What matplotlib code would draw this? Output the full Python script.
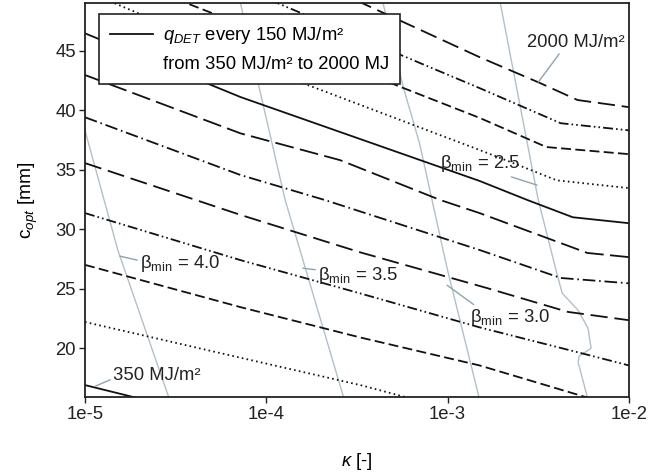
import numpy as np
import matplotlib.pyplot as plt
from matplotlib.lines import Line2D

plt.rcParams['font.family'] = ['Liberation Sans', 'DejaVu Sans']
plt.rcParams['mathtext.fontset'] = 'custom'
plt.rcParams['mathtext.rm'] = 'Liberation Sans'
plt.rcParams['mathtext.it'] = 'Liberation Sans:italic'
plt.rcParams['mathtext.bf'] = 'Liberation Sans:bold'

# q_DET iso-lines: kappa [-] against c_opt [mm]
q_levels = [350, 500, 650, 800, 950, 1100, 1250, 1400, 1550, 1700, 1850, 2000]

kap_350 = [1.0e-5, 1.9e-5]
c_350 = [16.9, 15.85]
kap_500 = [1.0e-5, 7.2e-5, 3.3e-4, 6.0e-4]
c_500 = [22.2, 19.2, 16.9, 15.85]
kap_650 = [1.0e-5, 7.2e-5, 3.3e-4, 1.5e-3, 5.9e-3]
c_650 = [27.0, 23.45, 20.9, 18.55, 15.85]
kap_800 = [1.0e-5, 7.2e-5, 3.3e-4, 1.5e-3, 5.4e-3, 1.0e-2]
c_800 = [31.35, 27.4, 24.6, 21.75, 19.6, 18.55]
kap_950 = [1.0e-5, 7.2e-5, 3.3e-4, 1.65e-3, 4.6e-3, 1.0e-2]
c_950 = [35.55, 31.2, 28.05, 25.05, 23.05, 22.35]
kap_1100 = [1.0e-5, 7.2e-5, 2.1e-4, 1.5e-3, 4.2e-3, 1.0e-2]
c_1100 = [39.4, 34.55, 32.45, 28.25, 25.9, 25.45]
kap_1250 = [1.0e-5, 7.2e-5, 2.55e-4, 9.1e-4, 1.5e-3, 5.9e-3, 1.0e-2]
c_1250 = [42.95, 38.05, 35.8, 32.45, 31.35, 28.0, 27.65]
kap_1400 = [1.0e-5, 7.2e-5, 1.5e-3, 2.75e-3, 4.9e-3, 1.0e-2]
c_1400 = [46.45, 41.1, 34.05, 32.45, 31.0, 30.5]
kap_1550 = [1.3e-5, 1.6e-4, 1.5e-3, 2.3e-3, 4.0e-3, 1.0e-2]
c_1550 = [49.3, 42.25, 36.65, 35.55, 34.1, 33.45]
kap_1700 = [3.1e-5, 1.5e-3, 3.5e-3, 1.0e-2]
c_1700 = [49.4, 39.35, 36.9, 36.3]
kap_1850 = [1.05e-4, 1.5e-3, 4.2e-3, 1.0e-2]
c_1850 = [49.25, 41.85, 38.9, 38.3]
kap_2000 = [3.1e-4, 1.5e-3, 3.15e-3, 5.2e-3, 1.0e-2]
c_2000 = [49.25, 44.45, 42.35, 40.85, 40.25]

q_kap = [kap_350, kap_500, kap_650, kap_800, kap_950, kap_1100,
         kap_1250, kap_1400, kap_1550, kap_1700, kap_1850, kap_2000]
q_c = [c_350, c_500, c_650, c_800, c_950, c_1100,
       c_1250, c_1400, c_1550, c_1700, c_1850, c_2000]

# beta_min iso-lines
beta_levels = ['4.0', '3.5', '3.0', '2.5']
kap_b40 = [1.0e-5, 1.52e-5, 2.9e-5]
c_b40 = [38.3, 28.2, 15.85]
kap_b35 = [7.2e-5, 9.0e-5, 1.27e-4, 2.67e-4]
c_b35 = [49.0, 42.3, 32.45, 15.85]
kap_b30 = [4.4e-4, 5.7e-4, 7.0e-4, 8.2e-4, 9.9e-4, 1.49e-3]
c_b30 = [49.0, 41.9, 37.2, 32.45, 26.8, 15.85]
kap_b25 = [1.95e-3, 3.16e-3, 3.96e-3, 4.28e-3, 5.24e-3, 5.94e-3,
           6.18e-3, 5.31e-3, 5.24e-3, 5.9e-3]
c_b25 = [49.0, 32.45, 26.55, 24.62, 23.19, 21.68, 20.0, 19.33, 18.82, 15.85]

beta_kap = [kap_b40, kap_b35, kap_b30, kap_b25]
beta_c = [c_b40, c_b35, c_b30, c_b25]

x_ticks = [1e-5, 1e-4, 1e-3, 1e-2]
x_ticklabels = ['1e-5', '1e-4', '1e-3', '1e-2']
y_ticks = [20, 25, 30, 35, 40, 45]

# line styles repeat every seven levels (dash units scale with lw)
styles = ['-',
          (0, (0.9, 1.8)),
          (0, (5.5, 2.4)),
          (0, (5.5, 1.7, 0.9, 1.7, 0.9, 1.7)),
          (0, (9.5, 3.8)),
          (0, (7, 2.1, 0.9, 2.1)),
          (0, (10.5, 3.5))]
BLACK = '#111111'
GREY = '#b3c0c9'
LEAD = '#8fa2b0'
FS = 13.3
LW = 1.3

fig = plt.figure(figsize=(6.48, 4.76), dpi=100)
ax = fig.add_axes([85/648, 1 - 397/476, 544/648, 394/476])

for kap, c in zip(beta_kap, beta_c):
    ax.plot(kap, c, color=GREY, lw=1.0, zorder=1)

for i, (kap, c) in enumerate(zip(q_kap, q_c)):
    ax.plot(kap, c, color=BLACK, lw=LW, ls=styles[i % 7], zorder=2)

ax.set_xscale('log')
ax.set_xlim(1e-5, 1e-2)
ax.set_ylim(15.9, 49.0)
ax.set_xticks(x_ticks)
ax.set_xticklabels(x_ticklabels)
ax.minorticks_off()
ax.set_yticks(y_ticks)
ax.tick_params(direction='out', length=4.5, width=1.0, pad=2,
               labelsize=FS, colors='#222222')
for sp in ax.spines.values():
    sp.set_linewidth(1.3)
    sp.set_color('#222222')

ax.set_xlabel(r'$\kappa$ [-]', fontsize=FS, labelpad=20)
ax.set_ylabel(r'c$_{opt}$ [mm]', fontsize=FS + 0.5, labelpad=11)

# labels with leader lines
notes = [
    ('β$_{\\rm min}$ = 4.0', (1.56e-5, 27.73), (2.01e-5, 26.72), (0, 0.64)),
    ('β$_{\\rm min}$ = 3.5', (1.59e-4, 26.72), (1.93e-4, 25.71), (0, 0.77)),
    ('β$_{\\rm min}$ = 3.0', (9.93e-4, 25.29), (1.33e-3, 22.18), (0.09, 1.0)),
    ('β$_{\\rm min}$ = 2.5', (3.11e-3, 33.70), (9.08e-4, 35.13), (0.78, 0.0)),
    ('2000 MJ/m²', (3.16e-3, 42.35), (2.74e-3, 45.29), (0.35, 0.0)),
    ('350 MJ/m²', (1.14e-5, 16.81), (1.43e-5, 17.31), (0, 0.33)),
]
for txt, xy, xytext, rel in notes:
    ax.annotate(txt, xy=xy, xytext=xytext, ha='left', va='baseline',
                fontsize=FS, color='#222222', zorder=4,
                arrowprops=dict(arrowstyle='-', color=LEAD, lw=1.0,
                                shrinkA=0, shrinkB=0, relpos=rel))

handles = [Line2D([], [], color=BLACK, lw=LW),
           Line2D([], [], color='none')]
labels = [r'$q_{DET}$ every 150 MJ/m²', 'from 350 MJ/m² to 2000 MJ']
leg = ax.legend(handles, labels, loc='upper left',
                bbox_to_anchor=(14/544, 1 - 11/394), borderaxespad=0,
                fontsize=FS, frameon=True, fancybox=False, framealpha=1,
                edgecolor='#222222', handlelength=2.3, handletextpad=0.55,
                labelspacing=0.55, borderpad=0.6)
leg.get_frame().set_linewidth(1.2)
leg.set_zorder(5)

plt.savefig('out.png', dpi=100)
